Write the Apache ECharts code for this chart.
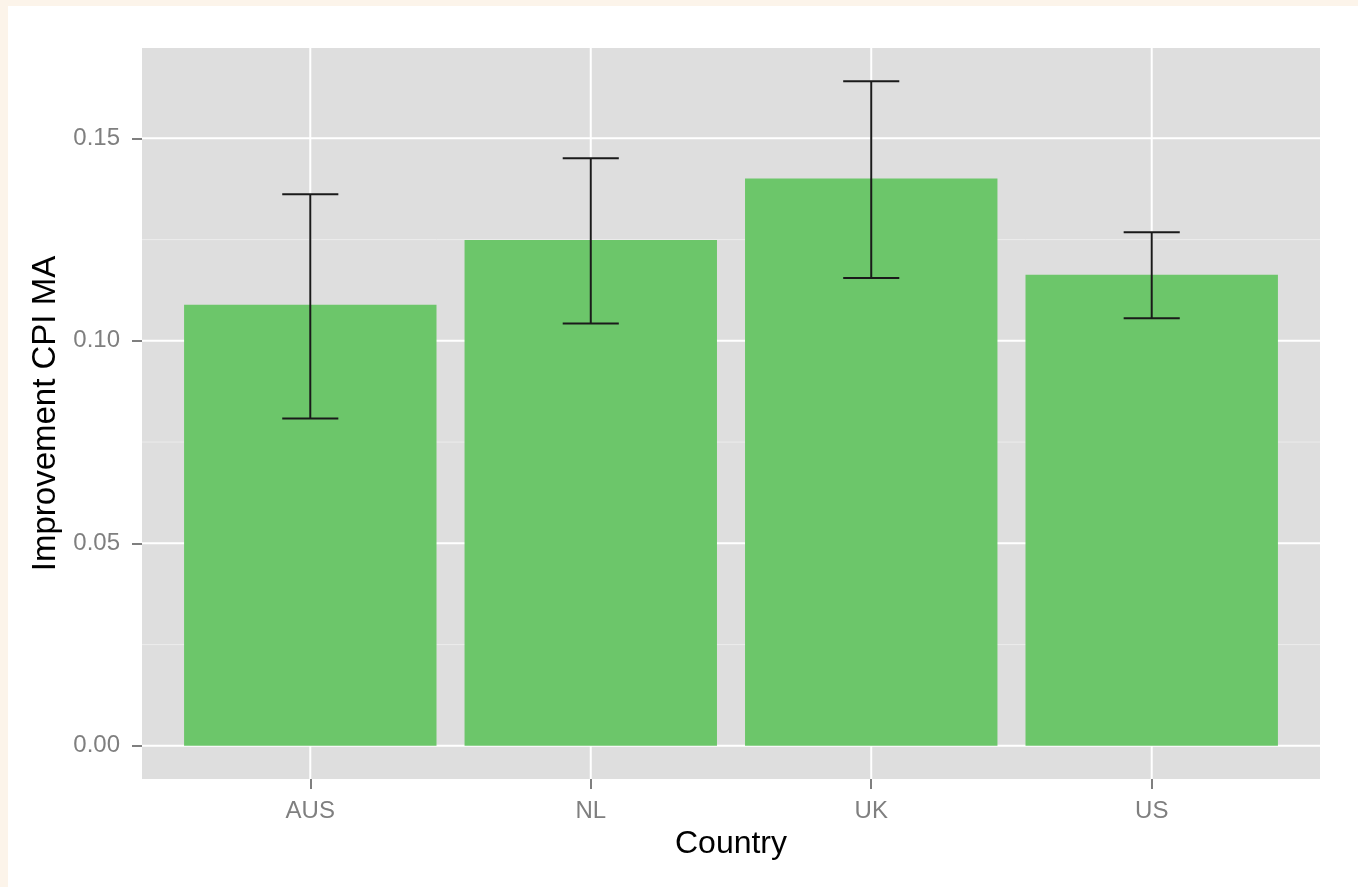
<!DOCTYPE html>
<html>
<head>
<meta charset="utf-8">
<title>Improvement CPI MA by Country</title>
<script src="https://cdn.jsdelivr.net/npm/echarts@6/dist/echarts.min.js"></script>
<style>
  html, body { margin: 0; padding: 0; background: #fcf4ea; width: 1358px; height: 887px; overflow: hidden; }
  #chart { position: absolute; left: 8px; top: 6px; width: 1350px; height: 881px; background: #ffffff; }
</style>
</head>
<body>
<div id="chart"></div>
<script>
// Mean improvement per country with lower / upper bounds of the error bars
const countries = ['AUS', 'NL', 'UK', 'US'];
const means = [0.1089, 0.1249, 0.1401, 0.1163];
const lowers = [0.0808, 0.1043, 0.1155, 0.1056];
const uppers = [0.1362, 0.1451, 0.1641, 0.1268];

// Y axis breaks (major labelled, minor unlabelled)
const yMajor = [0, 0.05, 0.10, 0.15];
const yMinor = [0.025, 0.075, 0.125];

const FONT = '"Liberation Sans", Arial, Helvetica, sans-serif';
const GREY = '#7f7f7f';

// Discrete positions 1..n, with 0.6 units of padding on each side
const xPos = countries.map((_, i) => i + 1);
const xMin = 0.4, xMax = countries.length + 0.6;

// Continuous y range: 0 .. top of error bars, padded by 5% of that span
const yTop = Math.max(...uppers);
const yPad = 0.05 * yTop;
const yMin = -yPad, yMax = yTop + yPad;

const BAR_HALF = 0.45;   // bar width 0.9
const CAP_HALF = 0.1;    // error bar cap width 0.2

function hLines(values, color, width) {
  return {
    type: 'custom',
    z: 1,
    silent: true,
    data: values.map(v => [1, v]),
    renderItem: (params, api) => {
      const cs = params.coordSys;
      const y = api.coord([1, api.value(1)])[1];
      return {
        type: 'line',
        shape: { x1: cs.x, y1: y, x2: cs.x + cs.width, y2: y },
        style: { stroke: color, lineWidth: width }
      };
    }
  };
}

const vGrid = {
  type: 'custom',
  z: 1,
  silent: true,
  data: xPos.map(x => [x, 0]),
  renderItem: (params, api) => {
    const cs = params.coordSys;
    const x = api.coord([api.value(0), 0])[0];
    return {
      type: 'line',
      shape: { x1: x, y1: cs.y, x2: x, y2: cs.y + cs.height },
      style: { stroke: '#ffffff', lineWidth: 2 }
    };
  }
};

const bars = {
  type: 'custom',
  z: 3,
  data: xPos.map((x, i) => [x, means[i]]),
  encode: { x: 0, y: 1 },
  renderItem: (params, api) => {
    const x = api.value(0), v = api.value(1);
    const a = api.coord([x - BAR_HALF, v]);
    const b = api.coord([x + BAR_HALF, 0]);
    return {
      type: 'rect',
      shape: { x: a[0], y: a[1], width: b[0] - a[0], height: b[1] - a[1] },
      style: { fill: '#6cc66a' }
    };
  }
};

const errorBars = {
  type: 'custom',
  z: 4,
  data: xPos.map((x, i) => [x, lowers[i], uppers[i]]),
  encode: { x: 0, y: [1, 2] },
  renderItem: (params, api) => {
    const x = api.value(0);
    const lo = api.coord([x, api.value(1)]);
    const hi = api.coord([x, api.value(2)]);
    const capL = api.coord([x - CAP_HALF, 0])[0];
    const capR = api.coord([x + CAP_HALF, 0])[0];
    const st = { stroke: '#1a1a1a', lineWidth: 2 };
    return {
      type: 'group',
      children: [
        { type: 'line', shape: { x1: lo[0], y1: lo[1], x2: hi[0], y2: hi[1] }, style: st },
        { type: 'line', shape: { x1: capL, y1: hi[1], x2: capR, y2: hi[1] }, style: st },
        { type: 'line', shape: { x1: capL, y1: lo[1], x2: capR, y2: lo[1] }, style: st }
      ]
    };
  }
};

const chart = echarts.init(document.getElementById('chart'), null, { renderer: 'canvas' });
chart.setOption({
  animation: false,
  backgroundColor: '#ffffff',
  grid: {
    left: 134, top: 42, width: 1178, height: 731,
    show: true, backgroundColor: '#dedede', borderWidth: 0
  },
  xAxis: {
    type: 'value',
    min: xMin, max: xMax,
    name: 'Country',
    nameLocation: 'middle',
    nameGap: 49,
    nameTextStyle: { color: '#000000', fontSize: 32, fontFamily: FONT },
    axisLine: { show: false, onZero: false },
    splitLine: { show: false },
    axisTick: { show: true, length: 10, customValues: xPos, lineStyle: { color: GREY, width: 2 } },
    axisLabel: {
      customValues: xPos,
      margin: 20,
      color: GREY, fontSize: 24, fontFamily: FONT,
      formatter: v => countries[Math.round(v) - 1]
    }
  },
  yAxis: {
    type: 'value',
    min: yMin, max: yMax,
    name: 'Improvement CPI MA',
    nameLocation: 'middle',
    nameGap: 80,
    nameRotate: 90,
    nameTextStyle: { color: '#000000', fontSize: 33, fontFamily: FONT },
    axisLine: { show: false, onZero: false },
    splitLine: { show: false },
    axisTick: { show: true, length: 10, customValues: yMajor, lineStyle: { color: GREY, width: 2 } },
    axisLabel: {
      customValues: yMajor,
      margin: 22,
      color: GREY, fontSize: 24, fontFamily: FONT,
      formatter: v => v.toFixed(2)
    }
  },
  series: [
    hLines(yMinor, '#ececec', 1),
    hLines(yMajor, '#ffffff', 2),
    vGrid,
    bars,
    errorBars
  ]
});
</script>
</body>
</html>
